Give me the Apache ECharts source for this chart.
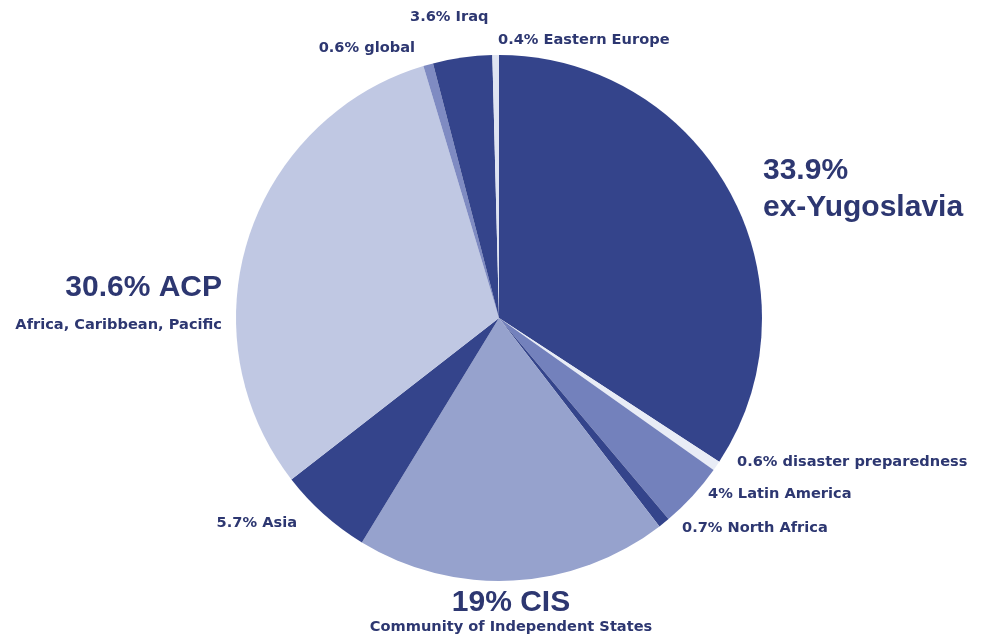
<!DOCTYPE html>
<html>
<head>
<meta charset="utf-8">
<title>Aid by region</title>
<script src="https://cdn.jsdelivr.net/npm/echarts@6/dist/echarts.min.js"></script>
<style>
  html, body { margin: 0; padding: 0; background: #ffffff; }
  #chart { width: 985px; height: 634px; }
</style>
</head>
<body>
<div id="chart"></div>
<script>
// Regions, clockwise from twelve o'clock
const regions = ['ex-Yugoslavia', 'disaster preparedness', 'Latin America', 'North Africa', 'CIS',
                 'Asia', 'ACP', 'global', 'Iraq', 'Eastern Europe'];
// Share of funding, percent
const shares = [33.9, 0.6, 4, 0.7, 19, 5.7, 30.6, 0.6, 3.6, 0.4];
// Second line under a region name
const subtitles = ['', '', '', '', 'Community of Independent States', '', 'Africa, Caribbean, Pacific', '', '', ''];

const sliceColors = ['#34448b', '#e8ecf6', '#7381bc', '#34448b', '#96a2cd',
                     '#34448b', '#c0c8e3', '#7f8bc2', '#34448b', '#dfe4f2'];

const ink = '#2d3771';
const bigFont = { fontFamily: 'Liberation Sans', fontWeight: 'bold', fontSize: 30, color: ink };
const smallFont = { fontFamily: 'DejaVu Sans', fontWeight: 'bold', fontSize: 14.6, color: ink };

// Where each label sits around the pie
const labelSpots = {
  'ex-Yugoslavia':         { x: 763, y: 152, align: 'left',   va: 'top' },
  'disaster preparedness': { x: 737, y: 462, align: 'left',   va: 'middle' },
  'Latin America':         { x: 708, y: 494, align: 'left',   va: 'middle' },
  'North Africa':          { x: 682, y: 528, align: 'left',   va: 'middle' },
  'CIS':                   { x: 511, y: 586, align: 'center', va: 'top' },
  'Asia':                  { x: 297, y: 523, align: 'right',  va: 'middle' },
  'ACP':                   { x: 222, y: 268, align: 'right',  va: 'top' },
  'global':                { x: 415, y: 48,  align: 'right',  va: 'middle' },
  'Iraq':                  { x: 410, y: 17,  align: 'left',   va: 'middle' },
  'Eastern Europe':        { x: 498, y: 40,  align: 'left',   va: 'middle' }
};
const bigLabels = ['ex-Yugoslavia', 'CIS', 'ACP'];

function labelFor(name, value, sub) {
  const pct = value + '%';
  if (name === 'ex-Yugoslavia') return '{big|' + pct + '}\n{big|' + name + '}';
  if (bigLabels.indexOf(name) >= 0) return '{big|' + pct + ' ' + name + '}\n{small|' + sub + '}';
  return '{small|' + pct + ' ' + name + '}';
}

const data = regions.map(function (name, i) {
  const spot = labelSpots[name];
  let bigLH = 34, smallLH = 16;
  if (name === 'ex-Yugoslavia') bigLH = 37;
  if (name === 'ACP') { bigLH = 40; smallLH = 34; }
  if (name === 'CIS') { bigLH = 34; smallLH = 14; }
  return {
    name: name,
    value: shares[i],
    itemStyle: { color: sliceColors[i] },
    label: {
      formatter: labelFor(name, shares[i], subtitles[i]),
      align: spot.align,
      rich: {
        big: Object.assign({ lineHeight: bigLH, align: spot.align }, bigFont),
        small: Object.assign({ lineHeight: smallLH, align: spot.align }, smallFont)
      }
    }
  };
});

const chart = echarts.init(document.getElementById('chart'), null, { renderer: 'canvas' });
chart.setOption({
  animation: false,
  backgroundColor: '#ffffff',
  series: [{
    type: 'pie',
    center: [499, 318],
    radius: 263,
    startAngle: 90,
    clockwise: true,
    avoidLabelOverlap: false,
    silent: true,
    itemStyle: { borderWidth: 0 },
    label: { show: true, position: 'outside' },
    labelLine: { show: false },
    labelLayout: function (params) {
      const spot = labelSpots[regions[params.dataIndex]];
      return { x: spot.x, y: spot.y, align: spot.align, verticalAlign: spot.va, hideOverlap: false };
    },
    data: data
  }]
});
</script>
</body>
</html>
